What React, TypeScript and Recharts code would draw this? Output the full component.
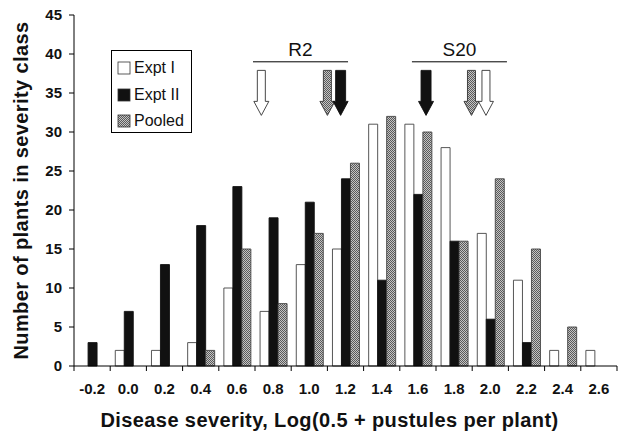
import React from 'react';
import {
  BarChart,
  Bar,
  XAxis,
  YAxis,
  Legend,
  ReferenceDot,
  ReferenceLine,
} from 'recharts';

const categories = ['-0.2', '0.0', '0.2', '0.4', '0.6', '0.8', '1.0', '1.2', '1.4', '1.6', '1.8', '2.0', '2.2', '2.4', '2.6'];
const exptI = [0, 2, 2, 3, 10, 7, 13, 15, 31, 31, 28, 17, 11, 2, 2];
const exptII = [3, 7, 13, 18, 23, 19, 21, 24, 11, 22, 16, 6, 3, 0, 0];
const pooled = [0, 0, 0, 2, 15, 8, 17, 26, 32, 30, 16, 24, 15, 5, 0];
const yTicks = [0, 5, 10, 15, 20, 25, 30, 35, 40, 45];

// arrows marking class means (on the severity scale)
const arrowX = [0.735, 1.1, 1.173, 1.645, 1.896, 1.976];
const arrowKind = ['I', 'P', 'II', 'II', 'P', 'I'];
const arrowTop = 37.9;

const bracketNames = ['R2', 'S20'];
const bracketFrom = [0.689, 1.567];
const bracketTo = [1.214, 2.092];
const bracketY = 39.0;

const W = 622;
const H = 431;
const LEFT = 74;
const RIGHT = 5;
const BAND = (W - LEFT - RIGHT) / categories.length;
const FONT = '"Liberation Sans", Arial, sans-serif';

const data = categories.map((c, i) => ({
  name: c,
  sev: Number(c),
  exptI: exptI[i],
  exptII: exptII[i],
  pooled: pooled[i],
}));

const fills: Record<string, string> = { I: '#ffffff', II: '#111111', P: 'url(#hatch)' };

function XTick(props: any) {
  const { x, y, payload, index } = props;
  const last = index === categories.length - 1;
  return (
    <g>
      <line x1={x - BAND / 2} x2={x - BAND / 2} y1={y} y2={y + 5} stroke="#000" />
      {last && <line x1={x + BAND / 2} x2={x + BAND / 2} y1={y} y2={y + 5} stroke="#000" />}
      <text x={x} y={y + 28} textAnchor="middle" fontSize={15} fontWeight="bold" fill="#111" fontFamily={FONT}>
        {payload.value}
      </text>
    </g>
  );
}

function YTick(props: any) {
  const { x, y, payload } = props;
  return (
    <text x={x} y={y + 5} textAnchor="end" fontSize={15} fontWeight="bold" fill="#111" fontFamily={FONT}>
      {payload.value}
    </text>
  );
}

function Arrow(kind: string) {
  return (props: any) => {
    const { cx, cy } = props;
    const shaft = kind === 'II' ? 5 : 4;
    const head = 7.5;
    const len = 45;
    const headH = 14;
    const d = `M${cx - shaft},${cy} L${cx + shaft},${cy} L${cx + shaft},${cy + len - headH} L${cx + head},${cy + len - headH} L${cx},${cy + len} L${cx - head},${cy + len - headH} L${cx - shaft},${cy + len - headH} Z`;
    return <path d={d} fill={fills[kind]} stroke={kind === 'II' ? '#111' : '#333'} strokeWidth={0.9} />;
  };
}

function LegendBox() {
  const items = [
    { label: 'Expt I', fill: '#ffffff' },
    { label: 'Expt II', fill: '#111111' },
    { label: 'Pooled', fill: 'url(#hatchLegend)' },
  ];
  return (
    <div
      style={{
        border: '1px solid #000',
        width: 81,
        height: 83,
        boxSizing: 'border-box',
        padding: '4px 0 0 5px',
        fontFamily: FONT,
        fontSize: 16,
        color: '#111',
        background: '#fff',
      }}
    >
      {items.map((it) => (
        <div key={it.label} style={{ display: 'flex', alignItems: 'center', height: 26.5 }}>
          <svg width={14} height={14} style={{ marginRight: 3 }}>
            <defs>
              <pattern id="hatchLegend" width="2" height="2" patternUnits="userSpaceOnUse">
                <rect width="2" height="2" fill="#c4c4c4" />
                <rect width="1" height="1" fill="#5a5a5a" />
                <rect x="1" y="1" width="1" height="1" fill="#5a5a5a" />
              </pattern>
            </defs>
            <rect x={1} y={1} width={12} height={12} fill={it.fill} stroke="#333" strokeWidth={0.8} />
          </svg>
          <span>{it.label}</span>
        </div>
      ))}
    </div>
  );
}

export default function App() {
  return (
    <div style={{ position: 'absolute', left: 0, top: 0, background: '#fff' }}>
      <BarChart
        width={W}
        height={H}
        data={data}
        margin={{ top: 15, right: RIGHT, left: 0, bottom: 0 }}
        barCategoryGap="14%"
        barGap={0}
      >
        <defs>
          <pattern id="hatch" width="2" height="2" patternUnits="userSpaceOnUse">
            <rect width="2" height="2" fill="#c4c4c4" />
            <rect width="1" height="1" fill="#5a5a5a" />
            <rect x="1" y="1" width="1" height="1" fill="#5a5a5a" />
          </pattern>
        </defs>
        <XAxis
          dataKey="name"
          interval={0}
          height={65}
          tickLine={false}
          tickSize={0}
          tickMargin={0}
          axisLine={{ stroke: '#000' }}
          tick={<XTick />}
          label={{
            value: 'Disease severity, Log(0.5 + pustules per plant)',
            position: 'insideBottom',
            offset: 4,
            dx: -16,
            style: { fontSize: 20, fontWeight: 'bold', fill: '#111', fontFamily: FONT, letterSpacing: 0.4 },
          }}
        />
        <XAxis xAxisId="num" dataKey="sev" type="number" domain={[-0.3, 2.7]} allowDataOverflow hide />
        <YAxis
          width={LEFT}
          domain={[0, 45]}
          ticks={yTicks}
          interval={0}
          tickSize={5}
          tickMargin={7}
          axisLine={{ stroke: '#000' }}
          tickLine={{ stroke: '#000' }}
          tick={<YTick />}
          label={{
            value: 'Number of plants in severity class',
            angle: -90,
            position: 'center',
            dx: -16,
            style: { fontSize: 20, fontWeight: 'bold', fill: '#111', fontFamily: FONT, textAnchor: 'middle', letterSpacing: 0.4 },
          }}
        />
        <Legend
          layout="vertical"
          align="center"
          verticalAlign="middle"
          wrapperStyle={{ left: 111, top: 50, width: 81, height: 83 }}
          content={() => <LegendBox />}
        />
        <Bar dataKey="exptI" name="Expt I" fill="#ffffff" stroke="#444" strokeWidth={0.9} isAnimationActive={false} />
        <Bar dataKey="exptII" name="Expt II" fill="#111111" stroke="#111" strokeWidth={0.9} isAnimationActive={false} />
        <Bar dataKey="pooled" name="Pooled" fill="url(#hatch)" stroke="#444" strokeWidth={0.9} isAnimationActive={false} />
        {bracketNames.map((n, i) => (
          <ReferenceLine
            key={n}
            xAxisId="num"
            segment={[
              { x: bracketFrom[i], y: bracketY },
              { x: bracketTo[i], y: bracketY },
            ]}
            stroke="#000"
            strokeWidth={1}
            label={{ value: n, position: 'top', offset: 6, style: { fontSize: 19, fill: '#111', fontFamily: FONT } }}
          />
        ))}
        {arrowX.map((x, i) => (
          <ReferenceDot key={i} xAxisId="num" x={x} y={arrowTop} r={0} shape={Arrow(arrowKind[i])} />
        ))}
      </BarChart>
    </div>
  );
}
